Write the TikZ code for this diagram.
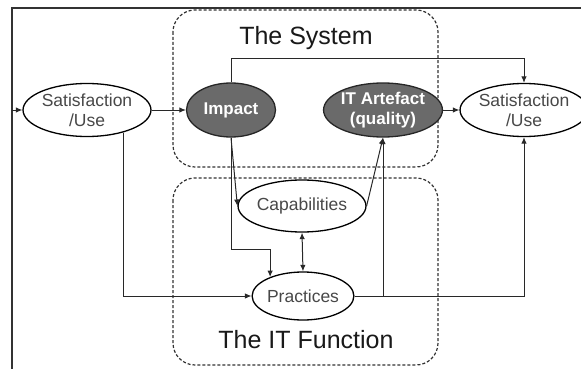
\documentclass[tikz,border=0pt]{standalone}
\usepackage{fontspec}
\setmainfont{Liberation Sans}
\usetikzlibrary{arrows.meta,shapes.geometric}
\definecolor{lineg}{HTML}{282828}
\definecolor{darkfill}{HTML}{6A6A6A}
\definecolor{softtext}{HTML}{484848}
\begin{document}
\begin{tikzpicture}[x=1pt,y=-1pt,
  conn/.style={draw=lineg,line width=1pt},
  arr/.style={conn,-{Latex[length=6.5pt,width=5.5pt]}},
  biarr/.style={conn,{Latex[length=6.5pt,width=5.5pt]}-{Latex[length=6.5pt,width=5.5pt]}},
  region/.style={draw=black!80,line width=1.2pt,dash pattern=on 3pt off 2pt,rounded corners=22pt},
  plainell/.style={ellipse,draw=black,line width=1.3pt,fill=white,inner sep=0pt,
    minimum width=89pt,minimum height=53pt,text=softtext,align=center,
    font=\fontsize{17.5}{20}\selectfont},
  darkell/.style={ellipse,draw=black!85,line width=1.3pt,fill=darkfill,inner sep=0pt,
    minimum width=89pt,minimum height=54pt,text=white,align=center,
    font=\fontsize{17}{20}\selectfont\bfseries},
  title/.style={font=\fontsize{25}{28}\selectfont,text=black!90}
]
\useasboundingbox (0,0) rectangle (581,369);
\fill[white] (0,0) rectangle (581,369);

% outer frame (only its left and top edges lie inside the page)
\draw[black!80,line width=1.3pt] (12,369) -- (12,8) -- (581,8);

% the two regions
\draw[region] (173,10) rectangle (438,167);
\draw[region] (173,178) rectangle (438,365);
\node[title] (systitle) at (306,38) {The System};
\node[title] (ittitle) at (306,340) {The IT Function};

% nodes
\node[plainell] (lsat) at (87,110) {Satisfaction\\/Use};
\node[darkell] (impact) at (231,110) {Impact};
\node[darkell] (itart) at (383,110) {IT Artefact\\(quality)};
\node[plainell] (rsat) at (524,110) {Satisfaction\\/Use};
\node[plainell,minimum height=52pt] (cap) at (302,206) {Capabilities};
\node[plainell,minimum height=48pt] (prac) at (303,296) {Practices};

% free ends at the frame
\coordinate (lin) at (12,110);
\coordinate (rout) at (581,110);
\coordinate (toprow) at (0,59);
\coordinate (midrow) at (0,249);

% connectors
\draw[arr] (lin) -- (lsat.west);
\draw[arr] (lsat.east) -- (impact.west);
\draw[arr] (itart.east) -- (rsat.west);
\draw[conn] (rsat.east) -- (rout);
\draw[arr] (impact.north) |- (rsat.north |- toprow) -- (rsat.north);
\draw[arr] (impact.south) -- (cap.west);
\draw[arr] (cap.east) -- (itart.south);
\draw[arr] (impact.south) |- (prac.150 |- midrow) -- (prac.150);
\draw[biarr] (cap.south) -- (prac.north);
\draw[arr] (lsat.-32) |- (prac.west);
\draw[arr] (prac.east) -| (rsat.south);
\draw[arr] (prac.east -| itart.south) -- (itart.south);
\end{tikzpicture}
\end{document}
